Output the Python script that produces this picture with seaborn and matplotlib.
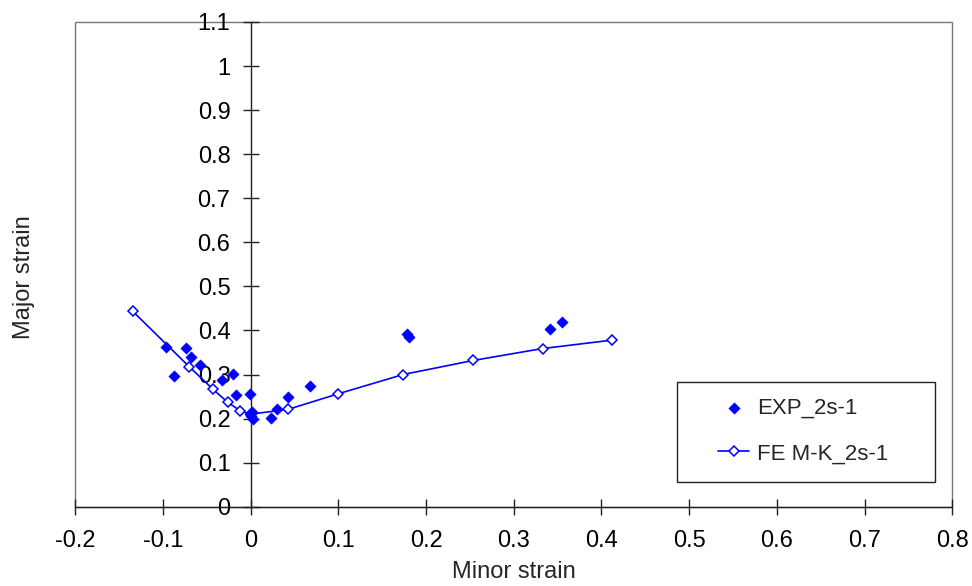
import numpy as np
import pandas as pd
import seaborn as sns
import matplotlib.pyplot as plt
from matplotlib.patches import Rectangle

# experimental points (minor strain, major strain)
exp_minor = [-0.096, -0.087, -0.074, -0.068, -0.058, -0.032, -0.020, -0.016,
             -0.001, 0.002, 0.001, -0.001, 0.003, 0.023, 0.030, 0.043, 0.068,
             0.178, 0.181, 0.341, 0.355]
exp_major = [0.363, 0.297, 0.361, 0.340, 0.322, 0.288, 0.302, 0.253,
             0.255, 0.214, 0.205, 0.210, 0.200, 0.202, 0.221, 0.248, 0.274,
             0.392, 0.384, 0.403, 0.419]

# FE M-K prediction
fe_minor = [-0.134, -0.070, -0.0425, -0.026, -0.012, 0.0, 0.043, 0.0995,
            0.174, 0.254, 0.333, 0.412]
fe_major = [0.443, 0.318, 0.266, 0.237, 0.218, 0.210, 0.221, 0.256,
            0.300, 0.332, 0.359, 0.378]

x_ticks = [-0.2, -0.1, 0, 0.1, 0.2, 0.3, 0.4, 0.5, 0.6, 0.7, 0.8]
x_labels = ["-0.2", "-0.1", "0", "0.1", "0.2", "0.3", "0.4", "0.5", "0.6", "0.7", "0.8"]
y_ticks = [0, 0.1, 0.2, 0.3, 0.4, 0.5, 0.6, 0.7, 0.8, 0.9, 1.0, 1.1]
y_labels = ["0", "0.1", "0.2", "0.3", "0.4", "0.5", "0.6", "0.7", "0.8", "0.9", "1", "1.1"]

df_exp = pd.DataFrame({"minor": exp_minor, "major": exp_major})
df_fe = pd.DataFrame({"minor": fe_minor, "major": fe_major})

sns.set_style("white")
plt.rcParams["font.family"] = ["Liberation Sans", "DejaVu Sans"]

fig = plt.figure(figsize=(9.72, 5.86), dpi=100)
ax = fig.add_axes([0.0772, 0.1353, 0.9027, 0.8272])

sns.lineplot(data=df_fe, x="minor", y="major", sort=False, estimator=None,
             color="blue", lw=1.2, marker="D", markersize=5,
             markerfacecolor="white", markeredgecolor="blue", markeredgewidth=1.1,
             label="FE M-K_2s-1", ax=ax, zorder=3)
sns.scatterplot(data=df_exp, x="minor", y="major", marker="D", s=34,
                color="blue", edgecolor="blue", linewidth=0.3,
                label="EXP_2s-1", ax=ax, zorder=4)

# y axis crosses at minor strain = 0
ax.spines["left"].set_position(("data", 0))
ax.spines["top"].set_visible(False)
ax.spines["right"].set_visible(False)
for s in ["left", "bottom"]:
    ax.spines[s].set_color("#222222")
    ax.spines[s].set_linewidth(1.0)

ax.set_xlim(-0.2, 0.8)
ax.set_ylim(0, 1.1)
ax.set_xticks(x_ticks)
ax.set_xticklabels(x_labels)
ax.set_yticks(y_ticks)
ax.set_yticklabels(y_labels)
ax.tick_params(axis="both", direction="inout", length=11, width=1.0,
               color="#222222", labelcolor="black", labelsize=17,
               bottom=True, left=True)
ax.tick_params(axis="x", pad=11)
ax.tick_params(axis="y", pad=9)

# outer plot frame
ax.add_patch(Rectangle((0, 0), 1, 1, transform=ax.transAxes, fill=False,
                       edgecolor="#777777", lw=1.0, zorder=0, clip_on=False))

ax.set_xlabel("Minor strain", fontsize=17)
ax.set_ylabel("Major strain", fontsize=17)
ax.xaxis.set_label_coords(0.5, -0.112)
ax.yaxis.set_label_coords(-0.046, 0.474)

handles, labels = ax.get_legend_handles_labels()
order = [labels.index("EXP_2s-1"), labels.index("FE M-K_2s-1")]
ax.legend([handles[i] for i in order], [labels[i] for i in order],
          loc="center left", bbox_to_anchor=(718 / 972, 1 - 431 / 586),
          bbox_transform=fig.transFigure, frameon=False, fontsize=16,
          borderpad=0, borderaxespad=0, handlelength=1.4, handletextpad=0.35,
          labelspacing=1.1)
fig.patches.append(Rectangle((677 / 972, 1 - 482 / 586), 258 / 972, 100 / 586,
                             transform=fig.transFigure, fill=False,
                             edgecolor="#222222", lw=1.0, figure=fig))

plt.savefig("out.png", dpi=100)
